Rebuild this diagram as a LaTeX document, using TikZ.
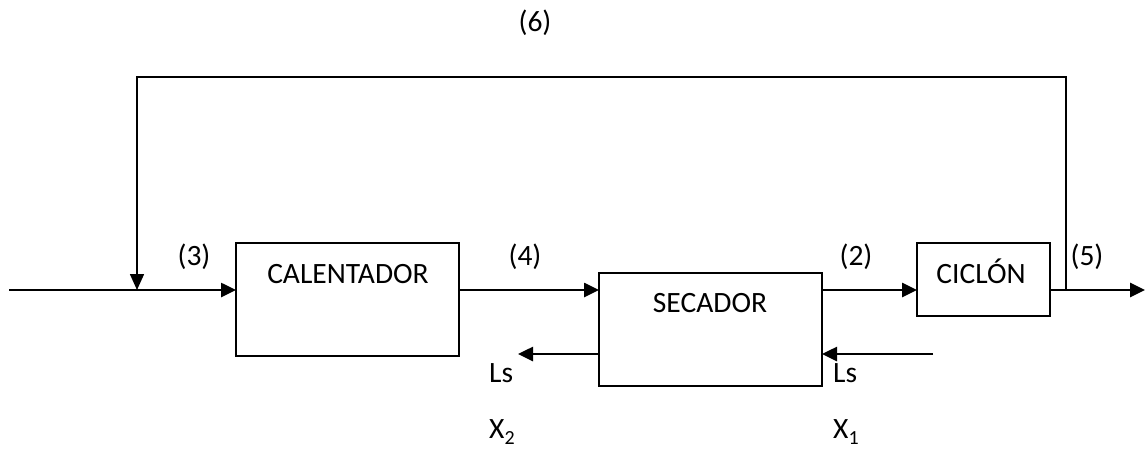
\documentclass[tikz,border=0pt]{standalone}
\usepackage{fontspec}
\setmainfont{Carlito}
\usetikzlibrary{arrows.meta}
\newcommand{\sbs}[1]{\raisebox{-0.22em}{\fontsize{20}{20}\selectfont #1}}
\begin{document}
\begin{tikzpicture}[x=1pt,y=-1pt,
  lbl/.style={inner sep=0pt, font=\fontsize{29.5}{35}\selectfont},
  unit/.style={draw, line width=1.6pt, outer sep=0pt, inner sep=0pt},
  flow/.style={line width=2.6pt, -{Triangle[length=15pt,width=14pt]}},
  rec/.style={line width=1.6pt, -{Triangle[length=16pt,width=14pt]}}]
\useasboundingbox (0,0) rectangle (1145,448);
% units
\node[unit, minimum width=223pt, minimum height=113pt] (cal) at (347.5,299.5) {};
\node[unit, minimum width=223pt, minimum height=113pt] (sec) at (710.5,329.5) {};
\node[unit, minimum width=133pt, minimum height=73pt] (cic) at (983.5,279.5) {};
% unit texts
\node[lbl, anchor=base] (calt) at (348,283) {CALENTADOR};
\node[lbl, anchor=base] (sect) at (710,312) {SECADOR};
\node[lbl, anchor=base] (cict) at (981,283) {CICLÓN};
% stream labels
\node[lbl] (s3) at (194,256.5) {(3)};
\node[lbl] (s4) at (525,256.5) {(4)};
\node[lbl] (s2) at (856,256.5) {(2)};
\node[lbl] (s5) at (1087,256.5) {(5)};
\node[lbl] (s6) at (535,23) {(6)};
\node[lbl, anchor=base west] (ls2) at (489,382) {Ls};
\node[lbl, anchor=base west] (ls1) at (833,382) {Ls};
\node[lbl, anchor=base west] (x2) at (489,438) {X\sbs{2}};
\node[lbl, anchor=base west] (x1) at (833,438) {X\sbs{1}};
% coordinates
\coordinate (in) at (9,290);
\coordinate (j1) at (137,290);
\coordinate (j2) at (1066,290);
\coordinate (out) at (1145,290);
\coordinate (top) at (600,77);
\coordinate (lsin) at (933,354);
\coordinate (lsout) at (518,354);
% main flow
\draw[flow] (in) -- (in -| cal.west);
\draw[flow] (cal.east |- in) -- (sec.west |- in);
\draw[flow] (sec.east |- in) -- (cic.west |- in);
\draw[flow] (cic.east |- in) -- (out);
% recycle
\draw[rec] (j2) -- (j2 |- top) -- (j1 |- top) -- (j1);
% solids
\draw[flow] (lsin) -- (sec.east |- lsin);
\draw[flow] (sec.west |- lsout) -- (lsout);
\end{tikzpicture}
\end{document}
